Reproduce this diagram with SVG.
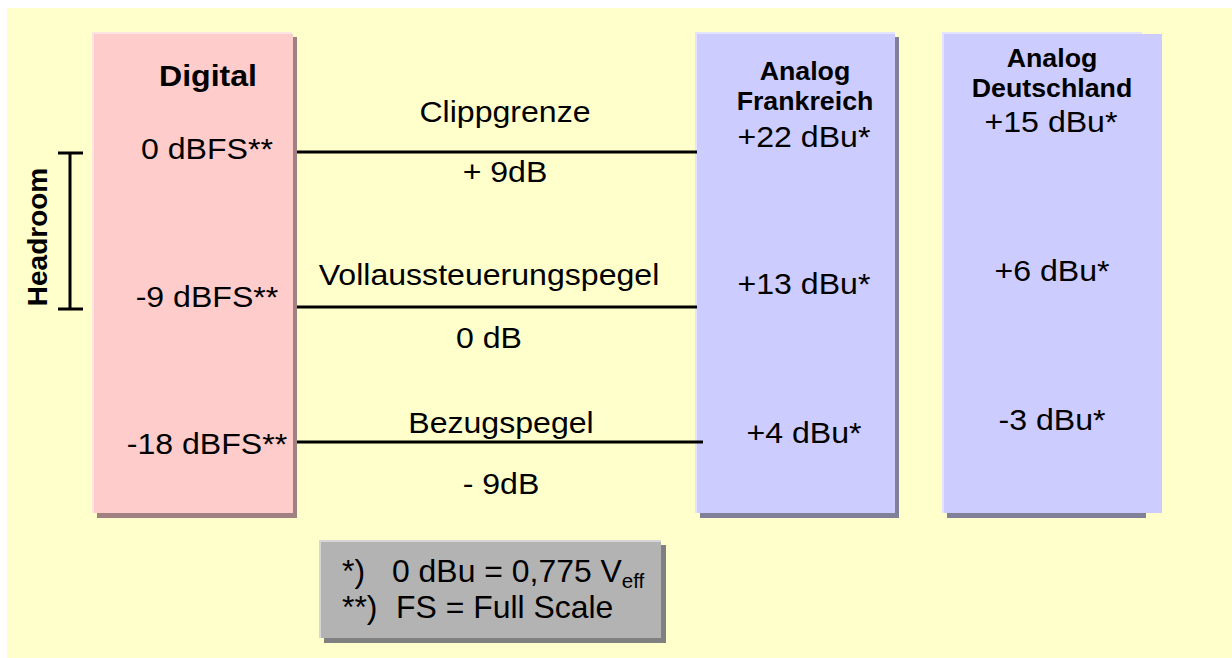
<svg xmlns="http://www.w3.org/2000/svg" width="1232" height="658" viewBox="0 0 1232 658">
<style>
text{font-family:"Liberation Sans",Arial,sans-serif;fill:#000}
.r{font-size:30px}
.c{text-anchor:middle}
.b{font-weight:bold}
.h{font-size:25px}
.s{transform:scaleX(1.07);transform-box:fill-box;transform-origin:center}
.ln{stroke:#000;stroke-width:3;fill:none}
.lg{font-size:31px;transform:scaleX(1.03);transform-box:fill-box;transform-origin:left}
</style>
<rect x="0" y="0" width="1232" height="658" fill="#ffffff"/>
<rect x="7" y="8" width="1225" height="650" fill="#ffffcc"/>

<g id="digital">
<rect x="92" y="32" width="200" height="481" fill="#ffe4e4"/>
<rect x="97" y="37" width="200" height="481" fill="#a08080"/>
<rect x="94" y="34" width="199" height="479" fill="#ffcccc"/>
<text class="b c s" x="208" y="86" style="font-size:30px">Digital</text>
<text class="r c s" x="207" y="159">0 dBFS**</text>
<text class="r c s" x="207" y="307">-9 dBFS**</text>
<text class="r c s" x="207" y="454">-18 dBFS**</text>
</g>

<g id="headroom">
<path class="ln" d="M70 153V309M58 153H83M58 309H83"/>
<text class="b c" transform="translate(47,237) rotate(-90)" style="font-size:28px">Headroom</text>
</g>

<g id="frankreich">
<rect x="695" y="32" width="200" height="481" fill="#e4e4ff"/>
<rect x="700" y="37" width="199" height="481" fill="#808099"/>
<rect x="697" y="34" width="198" height="479" fill="#ccccff"/>
<text class="b c h s" x="805" y="80">Analog</text>
<text class="b c h s" x="805" y="110">Frankreich</text>
<text class="r c s" x="804" y="147">+22 dBu*</text>
<text class="r c s" x="804" y="294">+13 dBu*</text>
<text class="r c s" x="804" y="443">+4 dBu*</text>
</g>

<g id="deutschland">
<rect x="942" y="32" width="200" height="481" fill="#e4e4ff"/>
<rect x="947" y="37" width="199" height="481" fill="#808099"/>
<rect x="944" y="34" width="218" height="479" fill="#ccccff"/>
<text class="b c h s" x="1052" y="67">Analog</text>
<text class="b c h s" x="1052" y="97">Deutschland</text>
<text class="r c s" x="1051" y="132">+15 dBu*</text>
<text class="r c s" x="1052" y="281">+6 dBu*</text>
<text class="r c s" x="1052" y="430">-3 dBu*</text>
</g>

<g id="connectors">
<line class="ln" x1="297" y1="152" x2="697" y2="152"/>
<line class="ln" x1="297" y1="307" x2="697" y2="307"/>
<line class="ln" x1="297" y1="442" x2="703" y2="442"/>
</g>

<g id="labels">
<text class="r c s" x="505" y="122">Clippgrenze</text>
<text class="r c s" x="505" y="182">+ 9dB</text>
<text class="r c s" x="489" y="285">Vollaussteuerungspegel</text>
<text class="r c s" x="489" y="348">0 dB</text>
<text class="r c s" x="501" y="433">Bezugspegel</text>
<text class="r c s" x="501" y="494">- 9dB</text>
</g>

<g id="legend">
<rect x="319" y="540" width="342" height="98" fill="#d6d6d6"/>
<rect x="324" y="545" width="342" height="98" fill="#808080"/>
<rect x="321" y="542" width="340" height="96" fill="#b3b3b3"/>
<text class="lg" x="342" y="582">*)</text>
<text class="lg" x="392" y="582">0 dBu = 0,775 V<tspan style="font-size:20px" dy="6">eff</tspan></text>
<text class="lg" x="342" y="618">**)</text>
<text class="lg" x="396" y="618">FS = Full Scale</text>
</g>
</svg>
